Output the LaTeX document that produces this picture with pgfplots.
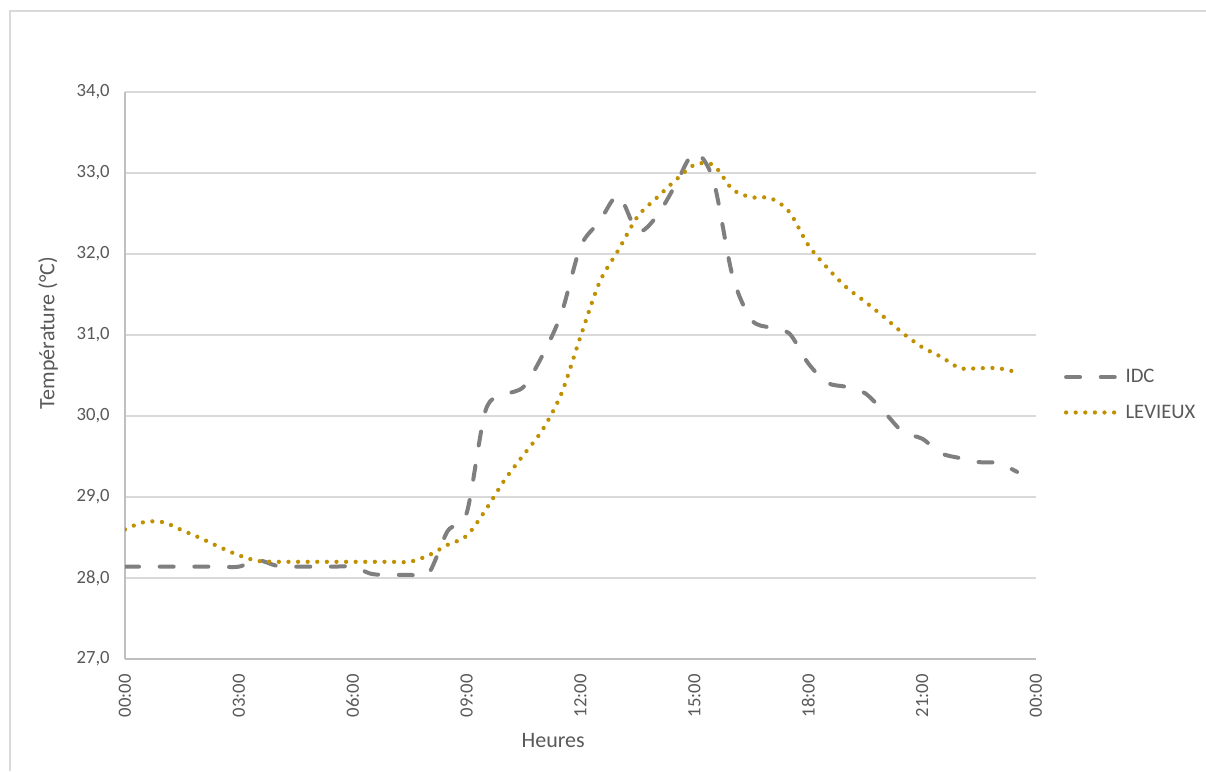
\documentclass[border=0pt]{standalone}
\usepackage{pgfplots}
\pgfplotsset{compat=1.18}
\usepackage{fontspec}
\setmainfont{Carlito}
\definecolor{idc}{HTML}{7F7F7F}
\definecolor{lev}{HTML}{BF9000}
\definecolor{txt}{HTML}{595959}
\definecolor{gridc}{HTML}{D9D9D9}
\definecolor{axl}{HTML}{BFBFBF}
\begin{document}
\begin{tikzpicture}
\path[use as bounding box] (0,0) rectangle (904.5pt,578.25pt);
\fill[white] (0,0) rectangle (904.5pt,578.25pt);
\draw[gridc, line width=1pt] (7.5pt,0) -- (7.5pt,570pt) -- (904.5pt,570pt);
\begin{axis}[
  at={(93.75pt,84pt)}, anchor=south west,
  scale only axis, width=683.25pt, height=425.25pt,
  xmin=0, xmax=24, ymin=27, ymax=34,
  xtick={0,3,...,24},
  xticklabels={00:00,03:00,06:00,09:00,12:00,15:00,18:00,21:00,00:00},
  ytick={27,28,...,34},
  yticklabels={{27,0},{28,0},{29,0},{30,0},{31,0},{32,0},{33,0},{34,0}},
  x tick label style={rotate=90, anchor=east, font=\fontsize{14}{16}\selectfont, text=txt},
  y tick label style={font=\fontsize{14}{16}\selectfont, text=txt},
  xticklabel shift=8pt, yticklabel shift=8pt,
  major tick length=0pt,
  xmajorgrids=false, ymajorgrids=true, grid style={gridc, line width=0.8pt},
  axis x line*=bottom, axis y line*=left,
  axis line style={axl, line width=0.8pt, -},
  xlabel={Heures}, ylabel={Température (°C)},
  label style={font=\fontsize{16.5}{18}\selectfont, text=txt},
  xlabel style={at={(axis description cs:0.47,-0.143)}, anchor=center},
  ylabel style={at={(axis description cs:-0.0845,0.575)}, anchor=center},
  legend style={draw=none, fill=none, at={(axis description cs:1.026,0.466)}, anchor=west,
    font=\fontsize{15.5}{17}\selectfont, text=txt, row sep=11pt},
  legend cell align=left,
  legend image code/.code={\draw[#1] (0pt,0pt) -- (41pt,0pt);},
]
\addplot[idc, line width=3pt, line cap=round, dash pattern=on 10.5pt off 15.5pt, smooth, tension=0.5] coordinates {
(0,28.14) (0.5,28.14) (1,28.14) (1.5,28.14) (2,28.14) (2.5,28.14) (3,28.14) (3.5,28.22)
(4,28.15) (4.5,28.14) (5,28.14) (5.5,28.14) (6,28.14) (6.5,28.05) (7,28.04) (7.5,28.04)
(8,28.06) (8.5,28.58) (9,28.8) (9.5,30.07) (10,30.26) (10.5,30.36) (11,30.75) (11.5,31.27)
(12,32.09) (12.5,32.40) (13,32.72) (13.5,32.28) (14,32.46) (14.5,32.85) (15,33.25) (15.5,32.91)
(16,31.74) (16.5,31.19) (17,31.09) (17.5,31.02) (18,30.65) (18.5,30.41) (19,30.36) (19.5,30.28)
(20,30.05) (20.5,29.80) (21,29.72) (21.5,29.54) (22,29.48) (22.5,29.43) (23,29.42) (23.5,29.31)
};
\addlegendentry{IDC}
\addplot[lev, line width=3.2pt, line cap=round, dash pattern=on 0pt off 7.2pt, smooth, tension=0.5] coordinates {
(0,28.60) (0.5,28.69) (1,28.69) (1.5,28.59) (2,28.49) (2.5,28.38) (3,28.28) (3.5,28.21)
(4,28.20) (4.5,28.20) (5,28.20) (5.5,28.20) (6,28.20) (6.5,28.20) (7,28.20) (7.5,28.20)
(8,28.28) (8.5,28.41) (9,28.52) (9.5,28.84) (10,29.21) (10.5,29.52) (11,29.83) (11.5,30.28)
(12,30.98) (12.5,31.65) (13,32.05) (13.5,32.46) (14,32.69) (14.5,32.91) (15,33.10) (15.5,33.10)
(16,32.80) (16.5,32.70) (17,32.69) (17.5,32.52) (18,32.11) (18.5,31.83) (19,31.59) (19.5,31.41)
(20,31.22) (20.5,31.02) (21,30.85) (21.5,30.73) (22,30.59) (22.5,30.59) (23,30.59) (23.5,30.54)
};
\addlegendentry{LEVIEUX}
\end{axis}
\end{tikzpicture}
\end{document}
